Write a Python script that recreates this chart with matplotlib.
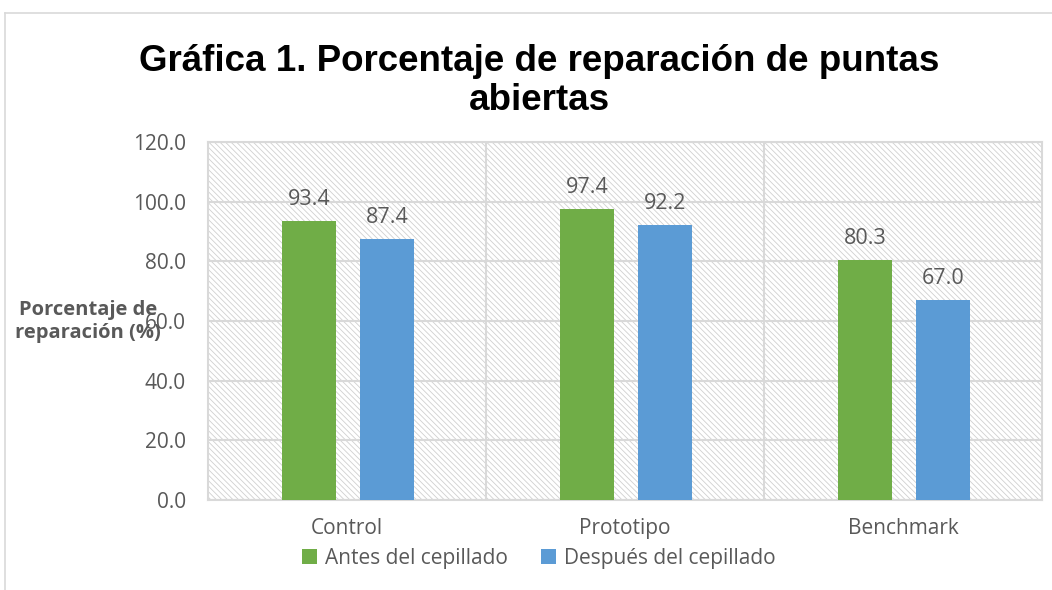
import numpy as np
import matplotlib
matplotlib.use("Agg")
import matplotlib.pyplot as plt
from matplotlib.lines import Line2D

categories = ["Control", "Prototipo", "Benchmark"]
antes = [93.4, 97.4, 80.3]
despues = [87.4, 92.2, 67.0]
series_names = ["Antes del cepillado", "Después del cepillado"]
yticks = [0, 20, 40, 60, 80, 100, 120]

green = "#70AD47"
blue = "#5B9BD5"
text_gray = "#595959"
grid_gray = "#D9D9D9"

plt.rcParams["hatch.color"] = "#D0D0D0"
plt.rcParams["hatch.linewidth"] = 0.6

fig = plt.figure(figsize=(10.52, 5.90), dpi=100)
ax = fig.add_axes([0.1977, 0.1525, 0.7928, 0.6068])

# hatched plot background
ax.patch.set_facecolor("white")
ax.patch.set_hatch("\\\\\\\\\\\\")
ax.patch.set_edgecolor("#D0D0D0")

x = np.arange(len(categories))
width = 0.195
b1 = ax.bar(x - 0.137, antes, width, color=green, label=series_names[0], zorder=3)
b2 = ax.bar(x + 0.144, despues, width, color=blue, label=series_names[1], zorder=3)

for bars, vals in ((b1, antes), (b2, despues)):
    for rect, v in zip(bars, vals):
        ax.annotate(f"{v:.1f}", (rect.get_x() + rect.get_width() / 2, v),
                    xytext=(0, 8), textcoords="offset points", ha="center", va="bottom",
                    fontsize=15.5, color=text_gray, family="Open Sans")

ax.set_xlim(-0.5, len(categories) - 0.5)
ax.set_ylim(0, 120)
ax.set_yticks(yticks)
ax.set_yticklabels([f"{t:.1f}" for t in yticks], fontsize=15, color=text_gray, family="Open Sans")
ax.set_xticks(x)
ax.set_xticklabels(categories, fontsize=15, color=text_gray, family="Open Sans")
ax.tick_params(length=0, pad=16, axis="y")
ax.tick_params(length=0, pad=13, axis="x")

ax.grid(axis="y", color=grid_gray, linewidth=1.5, zorder=1)
for xb in (0.5, 1.5):
    ax.axvline(xb, color=grid_gray, linewidth=1.5, zorder=1)
for side in ("left", "right", "top", "bottom"):
    ax.spines[side].set_color(grid_gray)
    ax.spines[side].set_linewidth(1.5)

fig.text(0.084, 0.455, "Porcentaje de\nreparación (%)", ha="center", va="center",
         fontsize=14.5, fontweight="bold", color=text_gray, family="Open Sans",
         linespacing=1.25)

fig.text(0.513, 0.862, "Gráfica 1. Porcentaje de reparación de puntas\nabiertas",
         ha="center", va="center", fontsize=26.5, fontweight="bold", color="black",
         family="Liberation Sans", linespacing=1.15)

ax.legend(loc="center", bbox_to_anchor=(0.397, -0.163), ncol=2, frameon=False,
          prop={"family": "Open Sans", "size": 15}, labelcolor=text_gray,
          handlelength=0.7, handleheight=0.7, handletextpad=0.4, columnspacing=1.6)

# outer chart border
fig.add_artist(Line2D([5 / 1052, 5 / 1052], [0, 1 - 13 / 590], color=grid_gray, linewidth=1.2))
fig.add_artist(Line2D([5 / 1052, 1], [1 - 13 / 590, 1 - 13 / 590], color=grid_gray, linewidth=1.2))

fig.savefig("out.png", dpi=100)
